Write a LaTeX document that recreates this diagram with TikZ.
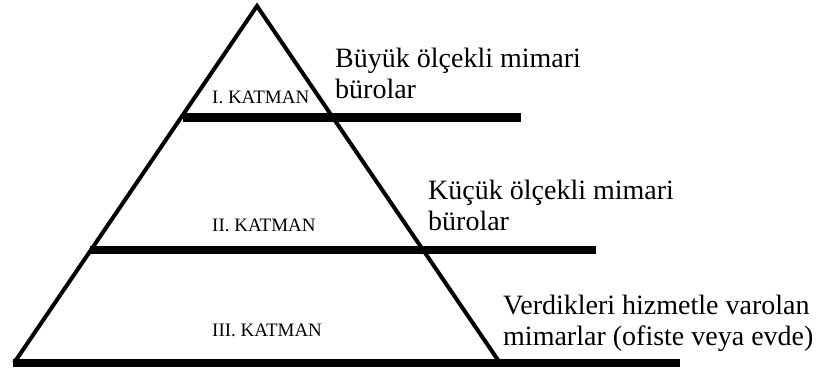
\documentclass[tikz,border=0pt]{standalone}
\usepackage{fontspec}
\setmainfont{Liberation Serif}

\begin{document}
\begin{tikzpicture}[x=1pt,y=-1pt,
  side/.style={line width=4pt,line join=miter},
  layer/.style={line width=8.5pt},
  katman/.style={font=\fontsize{19}{22}\selectfont,inner sep=0pt,anchor=base west},
  desc/.style={font=\fontsize{28}{31}\selectfont,inner sep=0pt,align=left,anchor=base west}]
\useasboundingbox (0,0) rectangle (817,372);
% pyramid
\coordinate (apex) at (257,6);
\coordinate (bl) at (14,363);
\coordinate (br) at (500,363);
\draw[side] (bl)--(apex)--(br);
\draw[layer] (183,117.5)--(521,117.5);
\draw[layer] (90,250)--(596,250);
\draw[layer] (13,363)--(680,363);
% layer names
\node[katman] (k1) at (212,103) {I. KATMAN};
\node[katman] (k2) at (212,231) {II. KATMAN};
\node[katman] (k3) at (212,336) {III. KATMAN};
% descriptions (anchored on the last line)
\node[desc] (d1) at (335,98) {Büyük ölçekli mimari\\bürolar};
\node[desc] (d2) at (428,230) {Küçük ölçekli mimari\\bürolar};
\node[desc] (d3) at (503,345) {Verdikleri hizmetle varolan\\mimarlar (ofiste veya evde)};
\end{tikzpicture}
\end{document}
